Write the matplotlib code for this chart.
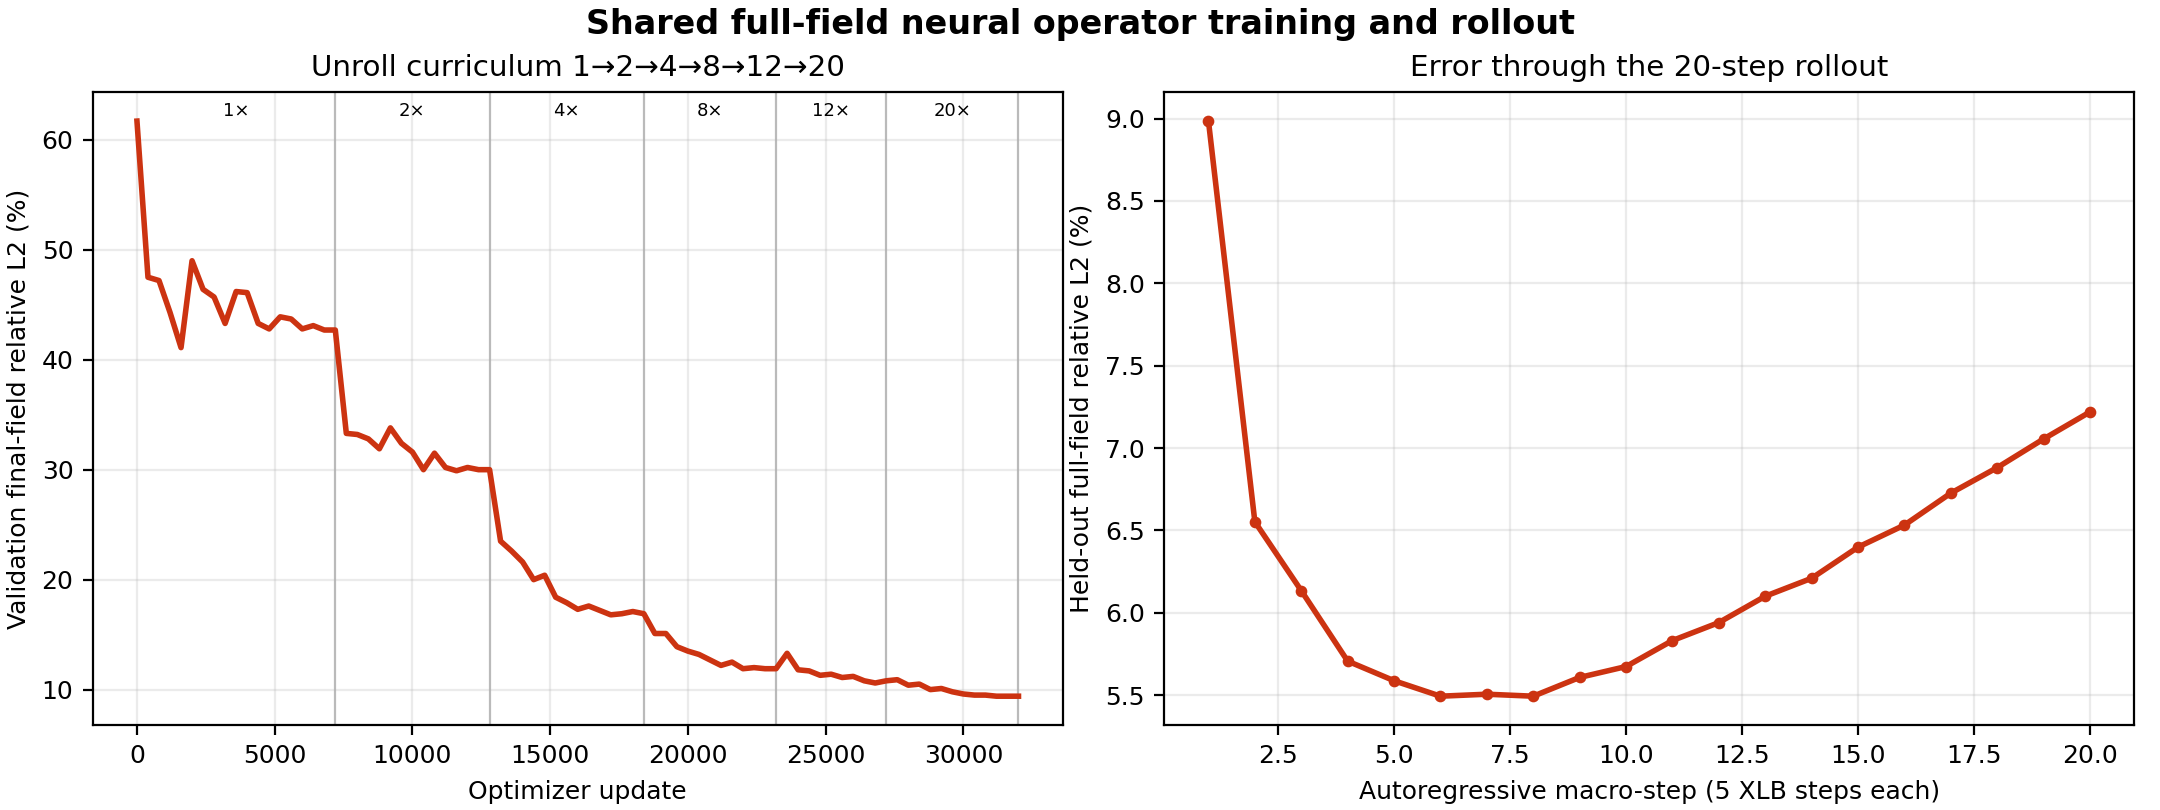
import numpy as np
import matplotlib
matplotlib.use("Agg")
import matplotlib.pyplot as plt
import matplotlib.transforms as mtransforms

# validation curve, logged every 400 optimizer updates
LOG_EVERY = 400
val_l2 = [
    61.7, 47.5, 47.2, 44.3, 41.1, 49.0, 46.4, 45.7, 43.3, 46.2,
    46.1, 43.3, 42.8, 43.9, 43.7, 42.8, 43.1, 42.7, 42.7, 33.3,
    33.2, 32.8, 31.9, 33.8, 32.4, 31.6, 30.0, 31.5, 30.2, 29.9,
    30.2, 30.0, 30.0, 23.5, 22.6, 21.6, 20.0, 20.4, 18.4, 17.9,
    17.3, 17.6, 17.2, 16.8, 16.9, 17.1, 16.9, 15.1, 15.1, 13.9,
    13.5, 13.2, 12.7, 12.2, 12.5, 11.9, 12.0, 11.9, 11.9, 13.3,
    11.8, 11.7, 11.3, 11.4, 11.1, 11.2, 10.8, 10.6, 10.8, 10.9,
    10.4, 10.5, 10.0, 10.1, 9.8, 9.6, 9.5, 9.5, 9.4, 9.4,
    9.4,
]
updates = np.arange(len(val_l2)) * LOG_EVERY

# curriculum phases (unroll length, last update of the phase)
phase_labels = ["1×", "2×", "4×", "8×", "12×", "20×"]
phase_ends = [7200, 12800, 18400, 23200, 27200, 32000]

# rollout error per macro-step
macro_step = list(range(1, 21))
rollout_l2 = [
    8.985, 6.552, 6.134, 5.706, 5.587, 5.493, 5.505, 5.493, 5.607, 5.673,
    5.831, 5.940, 6.100, 6.209, 6.398, 6.532, 6.726, 6.881, 7.055, 7.219,
]

RED = "#cc3311"

plt.rcParams["font.size"] = 9
fig, (ax1, ax2) = plt.subplots(1, 2, figsize=(10.8, 4.05), dpi=200)
fig.subplots_adjust(left=0.043, right=0.988, bottom=0.105, top=0.886, wspace=0.105)

# left: training curve
ax1.plot(updates, val_l2, color=RED, lw=2.0, zorder=3)
starts = [0] + phase_ends[:-1]
trans = mtransforms.blended_transform_factory(ax1.transData, ax1.transAxes)
for s, e, lab in zip(starts, phase_ends, phase_labels):
    ax1.axvline(e, color="0.55", lw=0.8, alpha=0.6, zorder=1)
    ax1.text((s + e) / 2, 0.985, lab, transform=trans, ha="center", va="top", fontsize=6.5)
ax1.set_title("Unroll curriculum 1→2→4→8→12→20", fontsize=10.6)
ax1.set_xlabel("Optimizer update")
ax1.set_ylabel("Validation final-field relative L2 (%)")
ax1.grid(True, alpha=0.25)

# right: rollout error
ax2.plot(macro_step, rollout_l2, color=RED, lw=2.0, marker="o", ms=3.2, zorder=3)
ax2.set_title("Error through the 20-step rollout", fontsize=10.6)
ax2.set_xlabel("Autoregressive macro-step (5 XLB steps each)")
ax2.set_ylabel("Held-out full-field relative L2 (%)")
ax2.grid(True, alpha=0.25)

fig.suptitle("Shared full-field neural operator training and rollout",
             fontsize=12, fontweight="bold", y=0.99)

fig.savefig("out.png", dpi=200)
